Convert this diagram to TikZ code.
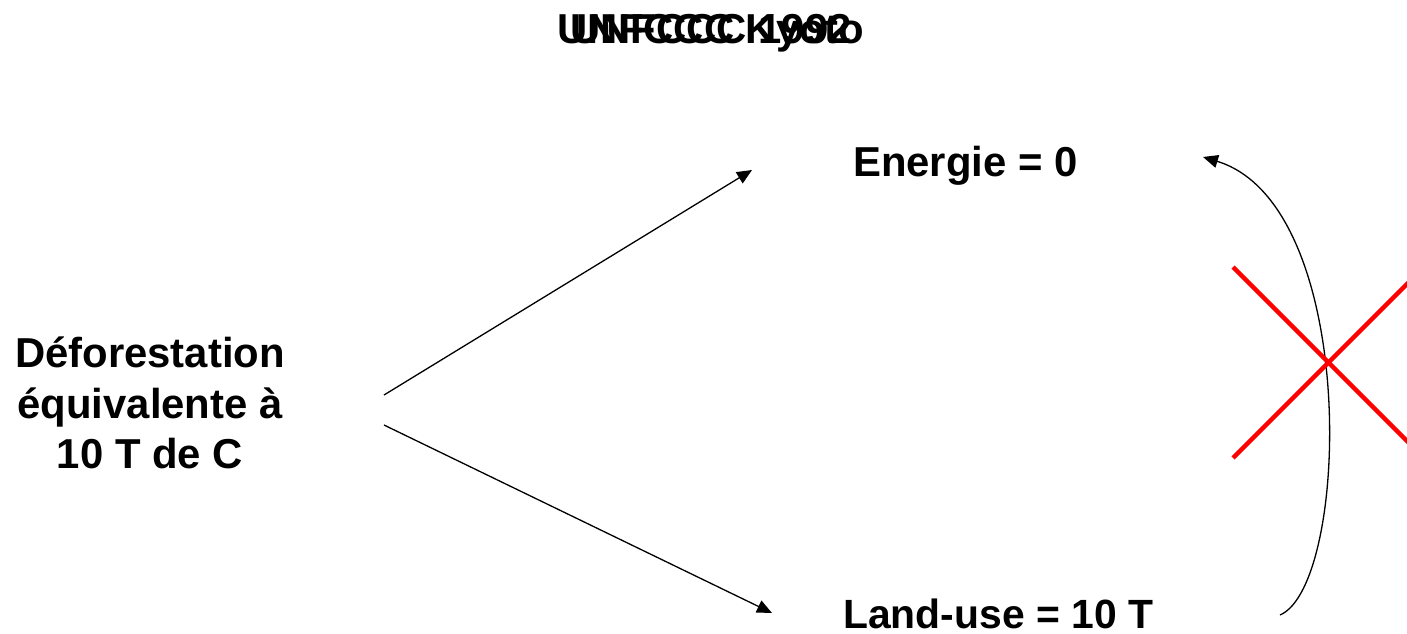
\documentclass[tikz,border=0pt]{standalone}
\usepackage{fontspec}
\setmainfont{Liberation Sans}
\usetikzlibrary{arrows.meta}
\begin{document}
\begin{tikzpicture}[x=1bp,y=-1bp,
  lbl/.style={font=\fontsize{42}{50}\selectfont\bfseries, inner sep=0pt},
  conn/.style={line width=1.3bp, -{Triangle[length=15bp,width=13bp]}},
  cross/.style={red, line width=4.5bp}]
\useasboundingbox (0,0) rectangle (1407,634);
% title (two overlapping texts)
\node[lbl, anchor=base] (t1) at (711,44) {UNFCCC 1992};
\node[lbl, anchor=base] (t2) at (711,44) {UNFCCC Kyoto};
% labels
\node[lbl, anchor=base west] (en) at (853,177) {Energie = 0};
\node[lbl, anchor=base west, font=\fontsize{41}{49}\selectfont\bfseries] (lu) at (843,628) {Land-use = 10 T};
\node[lbl, anchor=base] (d1) at (150,367) {Déforestation};
\node[lbl, anchor=base] (d2) at (150,418) {équivalente à};
\node[lbl, anchor=base] (d3) at (150,468) {10 T de C};
% connectors
\coordinate (s1) at (384,395);
\coordinate (e1) at (752,170);
\coordinate (s2) at (384,425);
\coordinate (e2) at (772,613);
\coordinate (cs) at (1280,615);
\coordinate (ce) at (1203,157);
\draw[conn] (s1) -- (e1);
\draw[conn] (s2) -- (e2);
\draw[conn] (cs) .. controls (1350,585) and (1360,205) .. (ce);
% red cross
\coordinate (x1a) at (1233,267);
\coordinate (x1b) at (1410,444);
\coordinate (x2a) at (1233,458);
\coordinate (x2b) at (1410,281);
\draw[cross] (x1a) -- (x1b);
\draw[cross] (x2a) -- (x2b);
\end{tikzpicture}
\end{document}
